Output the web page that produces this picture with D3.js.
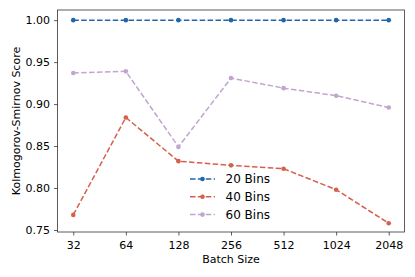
<!DOCTYPE html>
<html>
<head>
<meta charset="utf-8">
<script src="https://cdn.jsdelivr.net/npm/d3@7"></script>
<style>
  body { margin: 0; background: #fff; }
  svg { font-family: "DejaVu Sans", sans-serif; }
  .axis text { font-size: 11px; fill: #000; font-family: "DejaVu Sans", sans-serif; }
</style>
</head>
<body>
<div class="graph"></div>
<script>
"use strict";

var batchSizes = ["32", "64", "128", "256", "512", "1024", "2048"];
var bins20 = [1.000, 1.000, 1.000, 1.000, 1.000, 1.000, 1.000];
var bins40 = [0.768, 0.884, 0.832, 0.827, 0.823, 0.798, 0.758];
var bins60 = [0.937, 0.939, 0.849, 0.931, 0.919, 0.910, 0.896];
var seriesNames = ["20 Bins", "40 Bins", "60 Bins"];
var yTicks = [0.75, 0.80, 0.85, 0.90, 0.95, 1.00];

var width = 415,
    height = 277,
    margin = {left: 57.5, top: 10, right: 10.5, bottom: 45}

var series = [
    {name: seriesNames[0], color: '#2166ac', data: bins20},
    {name: seriesNames[1], color: '#d6604d', data: bins40},
    {name: seriesNames[2], color: '#c2a5cf', data: bins60}
]

var x = d3.scalePoint()
    .domain(batchSizes)
    .range([margin.left, width - margin.right])
    .padding(0.3)

var y = d3.scaleLinear()
    .domain([0.7476, 1.0121])
    .range([height - margin.bottom, margin.top])

var line = d3.line()
    .x(function(d, i) { return x(batchSizes[i]) })
    .y(function(d) { return y(d) })

var svg = d3.select('.graph').append('svg')
    .attr('width', width)
    .attr('height', height)

var xAxis = d3.axisBottom(x).tickSize(3.5).tickPadding(5.5)
var yAxis = d3.axisLeft(y).tickValues(yTicks).tickFormat(d3.format('.2f')).tickSize(3.5).tickPadding(4)

svg.append('g')
    .attr('class', 'axis')
    .attr('transform', 'translate(0,' + (height - margin.bottom) + ')')
    .call(xAxis)
    .call(function(g) { g.select('.domain').remove() })

svg.append('g')
    .attr('class', 'axis')
    .attr('transform', 'translate(' + margin.left + ',0)')
    .call(yAxis)
    .call(function(g) { g.select('.domain').remove() })

svg.selectAll('.axis .tick line').attr('stroke', '#333').attr('stroke-width', 0.8)

// frame
svg.append('rect')
    .attr('x', margin.left)
    .attr('y', margin.top)
    .attr('width', width - margin.left - margin.right)
    .attr('height', height - margin.top - margin.bottom)
    .attr('fill', 'none')
    .attr('stroke', '#333')
    .attr('stroke-width', 0.8)

var groups = svg.append('g')

series.forEach(function(s) {
    groups.append('path')
        .datum(s.data)
        .attr('d', line)
        .attr('fill', 'none')
        .attr('stroke', s.color)
        .attr('stroke-width', 1.5)
        .attr('stroke-dasharray', '5.5,2.4')

    groups.selectAll(null)
        .data(s.data)
        .enter().append('circle')
        .attr('cx', function(d, i) { return x(batchSizes[i]) })
        .attr('cy', function(d) { return y(d) })
        .attr('r', 2.3)
        .attr('fill', s.color)
})

// legend
var legend = svg.append('g').attr('transform', 'translate(190,179)')
series.forEach(function(s, i) {
    var row = legend.append('g').attr('transform', 'translate(0,' + (i * 17.8) + ')')
    row.append('line')
        .attr('x1', 0).attr('x2', 25)
        .attr('stroke', s.color)
        .attr('stroke-width', 1.5)
        .attr('stroke-dasharray', '5.5,2.4')
    row.append('circle').attr('cx', 12.5).attr('r', 2.3).attr('fill', s.color)
    row.append('text')
        .attr('x', 35.5)
        .attr('dy', '0.36em')
        .attr('font-size', '12px')
        .text(s.name)
})

svg.append('text')
    .attr('x', (margin.left + width - margin.right) / 2)
    .attr('y', 263)
    .attr('text-anchor', 'middle')
    .attr('font-size', '11px')
    .text('Batch Size')

svg.append('text')
    .attr('transform', 'translate(20,' + ((margin.top + height - margin.bottom) / 2) + ') rotate(-90)')
    .attr('text-anchor', 'middle')
    .attr('font-size', '11px')
    .text('Kolmogorov-Smirnov Score')
</script>
</body>
</html>
